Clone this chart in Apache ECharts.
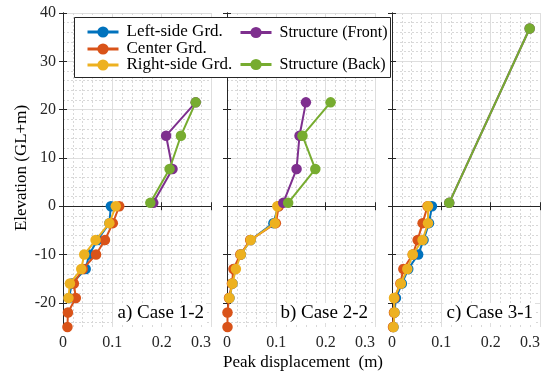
<!DOCTYPE html>
<html>
<head>
<meta charset="utf-8">
<script src="https://cdn.jsdelivr.net/npm/echarts@6/dist/echarts.min.js"></script>
<style>
  html, body { margin: 0; padding: 0; background: #fff; }
  #chart { width: 559px; height: 374px; }
</style>
</head>
<body>
<div id="chart"></div>
<script>
// Elevations (GL+m) of the ground gauges and of the structure gauges
const groundElev = [0, -3.5, -7, -10, -13, -16, -19, -22, -25];
const structElev = [0.7, 7.7, 14.6, 21.5];
const structElevC = [0.7, 36.8];

// Peak displacement (m) — a) Case 1-2
const leftA   = [0.097, 0.094, 0.070, 0.053, 0.046, 0.018, 0.012];
const centerA = [0.114, 0.101, 0.085, 0.067, 0.040, 0.022, 0.026, 0.010, 0.009];
const rightA  = [0.107, 0.094, 0.066, 0.043, 0.037, 0.014, 0.011];
const frontA  = [0.183, 0.222, 0.209, 0.269];
const backA   = [0.177, 0.216, 0.239, 0.269];

// b) Case 2-2
const leftB   = [0.104, 0.094, 0.048, 0.028, 0.015, 0.011, 0.005];
const centerB = [0.105, 0.099, 0.047, 0.027, 0.013, 0.010, 0.004, 0.001, 0.001];
const rightB  = [0.102, 0.097, 0.048, 0.028, 0.018, 0.011, 0.005];
const frontB  = [0.114, 0.141, 0.147, 0.160];
const backB   = [0.124, 0.179, 0.153, 0.210];

// c) Case 3-1
const leftC   = [0.081, 0.075, 0.064, 0.053, 0.033, 0.020, 0.008, 0.005, 0.003];
const centerC = [0.072, 0.062, 0.052, 0.042, 0.023, 0.017, 0.005, 0.004, 0.002];
const rightC  = [0.073, 0.073, 0.062, 0.042, 0.031, 0.018, 0.004, 0.005, 0.003];
const frontC  = [0.116, 0.279];
const backC   = [0.116, 0.279];

const seriesNames = ['Left-side Grd.', 'Center Grd.', 'Right-side Grd.', 'Structure (Front)', 'Structure (Back)'];
const caseLabels = ['a) Case 1-2', 'b) Case 2-2', 'c) Case 3-1'];
const yMajorTicks = [-20, -10, 0, 10, 20, 30, 40];
const colors = ['#0072BD', '#D95319', '#EDB120', '#7E2F8E', '#77AC30'];

const panels = [
  { ground: [leftA, centerA, rightA], struct: [frontA, backA], sElev: structElev },
  { ground: [leftB, centerB, rightB], struct: [frontB, backB], sElev: structElev },
  { ground: [leftC, centerC, rightC], struct: [frontC, backC], sElev: structElevC }
];

const FONT = 'Liberation Serif';
const INK = '#262626';
const gridLefts = [63, 227, 392];
const gridTop = 13, gridW = 148, gridH = 314;

// dotted minor grid every 2 m
const yMinorTicks = [];
for (let v = -24; v <= 40; v += 2) if (v % 10 !== 0) yMinorTicks.push(v);

function pairs(xs, ys) {
  return xs.map((x, i) => [x, ys[i]]);
}

const grids = [], xAxes = [], yAxes = [], series = [], graphics = [];

panels.forEach((p, i) => {
  grids.push({ left: gridLefts[i], top: gridTop, width: gridW, height: gridH });

  xAxes.push({
    gridIndex: i, type: 'value', min: 0, max: 0.3, interval: 0.1, position: 'bottom',
    axisLine: { show: true, lineStyle: { color: INK, width: 1 } },
    axisTick: { show: true, inside: true, length: 4, lineStyle: { color: INK } },
    axisLabel: { fontFamily: FONT, fontSize: 16, color: INK, margin: 8, alignMaxLabel: 'right',
                 formatter: v => String(Math.round(v * 10) / 10) },
    splitLine: { show: true, lineStyle: { color: '#dedede', width: 1 } },
    minorTick: { show: false, splitNumber: 5 },
    minorSplitLine: { show: true, lineStyle: { color: '#d8d8d8', width: 1, type: [2, 2] } }
  });
  xAxes.push({
    gridIndex: i, type: 'value', min: 0, max: 0.3, interval: 0.1, position: 'top',
    axisLine: { show: true, lineStyle: { color: INK, width: 1 } },
    axisTick: { show: true, inside: true, length: 4, lineStyle: { color: INK } },
    axisLabel: { show: false }, splitLine: { show: false }
  });

  yAxes.push({
    gridIndex: i, type: 'value', min: -25, max: 40, position: 'left',
    axisLine: { show: true, lineStyle: { color: INK, width: 1 } },
    axisTick: { show: true, inside: true, length: 4, lineStyle: { color: INK }, customValues: yMajorTicks },
    axisLabel: { show: i === 0, fontFamily: FONT, fontSize: 16, color: INK, margin: 7, customValues: yMajorTicks },
    splitLine: { show: false }
  });
  yAxes.push({
    gridIndex: i, type: 'value', min: -25, max: 40, position: 'right',
    axisLine: { show: true, lineStyle: { color: INK, width: 1 } },
    axisTick: { show: true, inside: true, length: 4, lineStyle: { color: INK }, customValues: yMajorTicks },
    axisLabel: { show: false }, splitLine: { show: false }
  });
  yAxes.push({
    gridIndex: i, type: 'value', min: -25, max: 40, position: 'left',
    axisLine: { show: false }, axisLabel: { show: false },
    axisTick: { show: false, customValues: yMajorTicks },
    splitLine: { show: true, lineStyle: { color: '#dedede', width: 1 } }
  });
  yAxes.push({
    gridIndex: i, type: 'value', min: -25, max: 40, position: 'left',
    axisLine: { show: false }, axisLabel: { show: false },
    axisTick: { show: false, customValues: yMinorTicks },
    splitLine: { show: true, lineStyle: { color: '#d8d8d8', width: 1, type: [2, 2] } }
  });

  const lines = [
    pairs(p.ground[0], groundElev),
    pairs(p.ground[1], groundElev),
    pairs(p.ground[2], groundElev),
    pairs(p.struct[0], p.sElev),
    pairs(p.struct[1], p.sElev)
  ];
  lines.forEach((d, k) => {
    series.push({
      name: seriesNames[k], type: 'line', xAxisIndex: 2 * i, yAxisIndex: 4 * i,
      data: d, symbol: 'circle', symbolSize: 10.5, showSymbol: true,
      color: colors[k],
      lineStyle: { width: 2, color: colors[k] },
      itemStyle: { color: colors[k] },
      z: 2 + k, animation: false, clip: false
    });
  });

  graphics.push({
    type: 'text', z: 5,
    x: gridLefts[i] + gridW - 5, y: 313,
    style: {
      text: caseLabels[i], fill: '#000', fontFamily: FONT, fontSize: 19,
      align: 'right', verticalAlign: 'middle',
      backgroundColor: '#fff', padding: [1, 2, 0, 3]
    }
  });
});

// legend frame
graphics.push({
  type: 'rect', z: 3,
  shape: { x: 74.5, y: 17.5, width: 316, height: 60 },
  style: { fill: '#fff', stroke: INK, lineWidth: 1 }
});
// axis titles
graphics.push({
  type: 'text', z: 5, x: 22, y: 168, rotation: Math.PI / 2,
  style: { text: 'Elevation (GL+m)', fill: '#000', fontFamily: FONT, fontSize: 17, align: 'center', verticalAlign: 'middle' }
});
graphics.push({
  type: 'text', z: 5, x: 303, y: 363,
  style: { text: 'Peak displacement  (m)', fill: '#000', fontFamily: FONT, fontSize: 17, align: 'center', verticalAlign: 'middle' }
});

// one legend per entry: three in the first column, two in the second
const legendPos = [
  { left: 86, center: 32, size: 17 }, { left: 86, center: 49, size: 17 }, { left: 86, center: 65, size: 17 },
  { left: 239, center: 33, size: 16 }, { left: 239, center: 65, size: 16 }
];
const legends = seriesNames.map((n, k) => ({
  data: [n], left: legendPos[k].left, top: legendPos[k].center - 8.5,
  orient: 'vertical', padding: 0, itemGap: 0, itemWidth: 31, itemHeight: 14,
  selectedMode: false, z: 6,
  lineStyle: { width: 3 },
  textStyle: { fontFamily: FONT, fontSize: legendPos[k].size, color: '#000', padding: [0, 0, 0, 3] }
}));

const chart = echarts.init(document.getElementById('chart'), null, { renderer: 'canvas' });
chart.setOption({
  animation: false,
  backgroundColor: '#fff',
  grid: grids,
  xAxis: xAxes,
  yAxis: yAxes,
  legend: legends,
  series: series,
  graphic: graphics
});
</script>
</body>
</html>
